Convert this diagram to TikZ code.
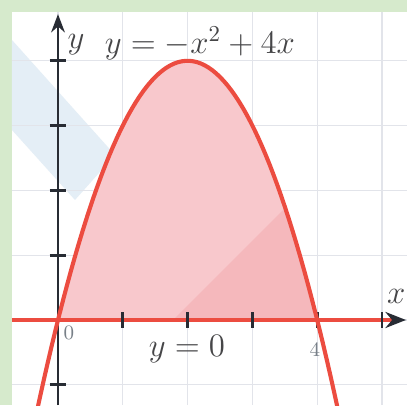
\documentclass[tikz,border=0pt]{standalone}
\usepackage{amsmath}
\usetikzlibrary{arrows.meta}
\definecolor{curvered}{RGB}{236,76,64}
\definecolor{regionpink}{RGB}{248,200,204}
\definecolor{regionpinkdark}{RGB}{245,184,188}
\definecolor{gridgray}{RGB}{226,228,234}
\definecolor{axisblack}{RGB}{40,44,52}
\definecolor{bandgreen}{RGB}{214,234,204}
\definecolor{markblue}{RGB}{228,238,246}
\definecolor{textgray}{RGB}{70,70,72}
\definecolor{smallgray}{RGB}{120,128,136}
\tikzset{
  bigtext/.style={text=textgray, font=\fontsize{14}{16}\selectfont, inner sep=0pt},
  smalltext/.style={text=smallgray, font=\fontsize{9}{10}\selectfont, inner sep=0pt},
  tickmark/.style={axisblack, line width=1.3pt}
}
\begin{document}
\begin{tikzpicture}[thick]
  \useasboundingbox (-0.895,-1.312) rectangle (5.386,4.938);
  % background and watermark
  \fill[bandgreen] (-0.895,-1.312) rectangle (5.386,4.938);
  \fill[white] (-0.710,-1.312) rectangle (5.386,4.753);
  \fill[markblue] (-0.710,4.321) -- (0.880,2.546) -- (0.262,1.852) -- (-0.710,2.932) -- cycle;
  \draw[gridgray, line width=0.6pt] (-0.710,-1.312) grid (5.386,4.753);

  % region under the curve
  \fill[regionpink] plot[domain=0:4, samples=60] (\x,{-\x*\x+4*\x}) -- cycle;
  \begin{scope}
    \clip plot[domain=0:4, samples=60] (\x,{-\x*\x+4*\x}) -- cycle;
    \fill[regionpinkdark] (1.775,0) -- (4.5,2.725) -- (4.5,0) -- cycle;
  \end{scope}

  % axes
  \coordinate (ybot) at (0,-1.312);
  \coordinate (ytop) at (0,4.72);
  \coordinate (xleft) at (-0.710,0);
  \coordinate (xright) at (5.37,0);
  \draw[axisblack, line width=1.3pt, -{Stealth[length=8pt,width=6pt]}] (ybot) -- (ytop);
  \foreach \t in {-1,1,2,3,4}
    \draw[tickmark] (-0.13,\t) -- (0.13,\t);
  \draw[curvered, line width=1.8pt, -{Stealth[color=axisblack,length=9pt,width=7pt]}] (xleft) -- (xright);
  \foreach \t in {1,...,5}
    \draw[tickmark] (\t,-0.12) -- (\t,0.12);

  % parabola
  \draw[curvered, line width=1.8pt] plot[domain=-0.33:4.33, samples=80] (\x,{-\x*\x+4*\x});

  % labels
  \node[bigtext] (ylab) at (0.278,4.244) {$y$};
  \node[bigtext, anchor=base] (eqlab) at (2.19,4.120) {$y = -x^2 + 4x$};
  \node[bigtext] (xlab) at (5.22,0.37) {$x$};
  \node[bigtext, anchor=base, font=\fontsize{15}{17}\selectfont] (axislab) at (1.99,-0.571) {$y = 0$};
  \node[smalltext] (zerolab) at (0.17,-0.20) {0};
  \node[smalltext] (fourlab) at (3.966,-0.463) {4};
\end{tikzpicture}
\end{document}
